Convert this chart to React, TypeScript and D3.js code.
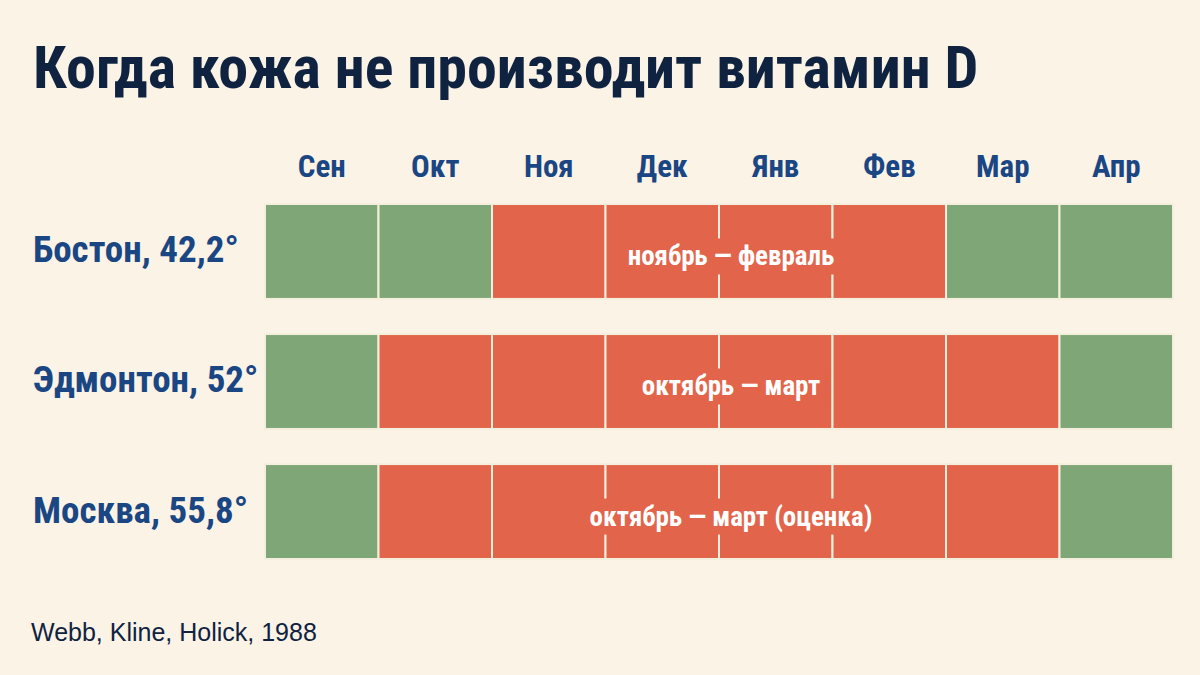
import React, { useEffect, useRef } from "react";
import * as d3 from "d3";

const months = ["Сен", "Окт", "Ноя", "Дек", "Янв", "Фев", "Мар", "Апр"];
const cities = ["Бостон, 42,2°", "Эдмонтон, 52°", "Москва, 55,8°"];
// index of first and last month with no vitamin D synthesis
const winterStart = [2, 1, 1];
const winterEnd = [5, 6, 6];
const periodLabels = ["ноябрь — февраль", "октябрь — март", "октябрь — март (оценка)"];
const title = "Когда кожа не производит витамин D";
const source = "Webb, Kline, Holick, 1988";

const W = 1200;
const H = 675;
const BG = "#fbf3e6";
const GREEN = "#7ea677";
const RED = "#e2644a";
const NAVY = "#0f2240";
const BLUE = "#1a4683";
const COND = "'Roboto Condensed', 'Liberation Sans Narrow', 'DejaVu Sans Condensed', 'Liberation Sans', sans-serif";

export default function App() {
  const ref = useRef<SVGSVGElement>(null);

  useEffect(() => {
    const svg = d3.select(ref.current);
    svg.selectAll("*").remove();

    svg.append("rect").attr("width", W).attr("height", H).attr("fill", BG);

    const x = d3.scaleBand<string>().domain(months).range([265, 1173]).paddingInner(0).paddingOuter(0);
    const y = d3.scaleBand<string>().domain(cities).range([204, 559]).paddingInner(0.27).paddingOuter(0);

    svg.append("text")
      .attr("x", 33).attr("y", 88)
      .attr("font-family", COND).attr("font-weight", 700).attr("font-size", 60)
      .attr("fill", NAVY).text(title);

    svg.append("g").selectAll("text").data(months).join("text")
      .attr("x", (d) => (x(d) as number) + x.bandwidth() / 2)
      .attr("y", 177)
      .attr("text-anchor", "middle")
      .attr("font-family", COND).attr("font-weight", 700).attr("font-size", 31)
      .attr("fill", BLUE).text((d) => d);

    const rows = svg.append("g").selectAll("g").data(cities).join("g")
      .attr("transform", (d) => `translate(0,${y(d)})`);

    rows.each(function (city, ri) {
      const g = d3.select(this);
      g.selectAll("rect.cell").data(months).join("rect")
        .attr("class", "cell")
        .attr("x", (m) => x(m) as number)
        .attr("y", 0)
        .attr("width", x.bandwidth())
        .attr("height", y.bandwidth())
        .attr("fill", (_m, mi) => (mi >= winterStart[ri] && mi <= winterEnd[ri] ? RED : GREEN))
        .attr("stroke", "#f4efdc")
        .attr("stroke-width", 2);

      const x0 = x(months[winterStart[ri]]) as number;
      const x1 = (x(months[winterEnd[ri]]) as number) + x.bandwidth();
      const cx = (x0 + x1) / 2 + 12;
      const bgRect = g.append("rect").attr("fill", RED);
      const t = g.append("text")
        .attr("x", cx).attr("y", y.bandwidth() / 2 + 14)
        .attr("text-anchor", "middle")
        .attr("font-family", COND).attr("font-weight", 700).attr("font-size", 27)
        .attr("fill", "#ffffff").text(periodLabels[ri]);
      const bb = (t.node() as SVGTextElement).getBBox();
      bgRect.attr("x", bb.x - 6).attr("y", bb.y - 2).attr("width", bb.width + 12).attr("height", bb.height + 4);
    });

    rows.append("text")
      .attr("x", 33).attr("y", y.bandwidth() / 2 + 11)
      .attr("font-family", COND).attr("font-weight", 700).attr("font-size", 37)
      .attr("fill", BLUE).text((d) => d);

    svg.append("text")
      .attr("x", 31).attr("y", 641)
      .attr("font-family", "'Liberation Sans', Arial, sans-serif").attr("font-size", 25)
      .attr("fill", NAVY).text(source);
  }, []);

  return (
    <svg ref={ref} width={W} height={H} style={{ position: "absolute", left: 0, top: 0, display: "block" }} />
  );
}
